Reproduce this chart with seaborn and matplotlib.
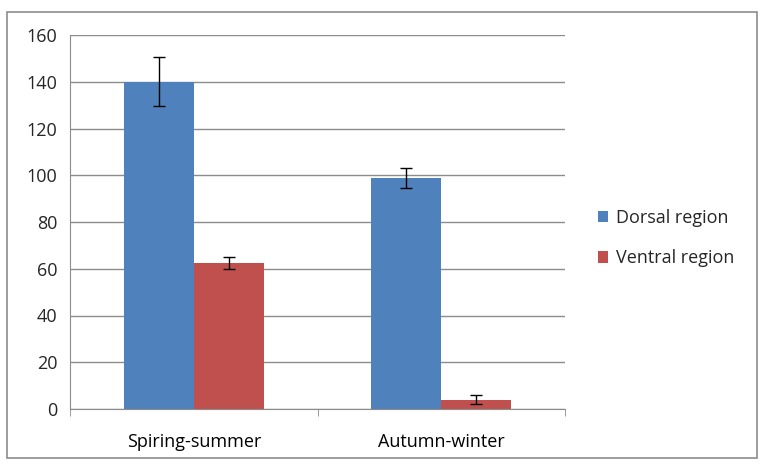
import matplotlib
matplotlib.use("Agg")
import matplotlib.pyplot as plt
import seaborn as sns
import pandas as pd
import numpy as np

# values
seasons = ['Spiring-summer', 'Autumn-winter']
regions = ['Dorsal region', 'Ventral region']
dorsal = [140, 99]
ventral = [62.5, 4]
dorsal_err = [10.5, 4.3]
ventral_err = [2.5, 2]

colors = ['#4f81bd', '#c0504d']

df = pd.DataFrame({
    'season': seasons * 2,
    'region': [regions[0]] * 2 + [regions[1]] * 2,
    'value': dorsal + ventral,
})
errs = dorsal_err + ventral_err

sns.set_style('white')
plt.rcParams['font.family'] = ['Open Sans', 'DejaVu Sans']

fig = plt.figure(figsize=(7.65, 4.7), dpi=100)
ax = fig.add_axes([70 / 765, 1 - 409 / 470, 495 / 765, 374 / 470])

sns.barplot(data=df, x='season', y='value', hue='region', palette=colors,
            width=0.566, saturation=1, errorbar=None, ax=ax, linewidth=0)

# error bars at the centre of each bar
for patch, err in zip(ax.patches[:4], errs):
    xc = patch.get_x() + patch.get_width() / 2
    ax.errorbar(xc, patch.get_height(), yerr=err, fmt='none', ecolor='black',
                elinewidth=1, capsize=4, capthick=1, zorder=5)

ax.set_xlim(-0.5, 1.5)
ax.set_ylim(0, 160)
ax.set_yticks(np.arange(0, 161, 20))
ax.yaxis.grid(True, color='#8c8c8c', linewidth=1)
ax.set_axisbelow(True)
ax.set_xlabel('')
ax.set_ylabel('')

for side in ['top', 'right']:
    ax.spines[side].set_visible(False)
for side in ['left', 'bottom']:
    ax.spines[side].set_color('#8c8c8c')

ax.set_xticks([-0.5, 0.5, 1.5], minor=True)
ax.tick_params(axis='x', which='major', bottom=False, labelsize=13, colors='black', pad=14)
ax.tick_params(axis='x', which='minor', bottom=True, length=5, color='#8c8c8c', direction='out')
ax.tick_params(axis='y', length=5, color='#8c8c8c', direction='out', labelsize=13, pad=4)

ax.legend(loc='center left', bbox_to_anchor=(1.033, 0.457), frameon=False,
          fontsize=13, handlelength=0.6, handleheight=0.6, handletextpad=0.4,
          labelspacing=1.25)

# outer chart border
fig.patches.append(plt.Rectangle((7 / 765, 12 / 470), 750 / 765, 446 / 470,
                                 transform=fig.transFigure, fill=False,
                                 edgecolor='#8c8c8c', linewidth=1.2))

fig.savefig('out.png', dpi=100)
